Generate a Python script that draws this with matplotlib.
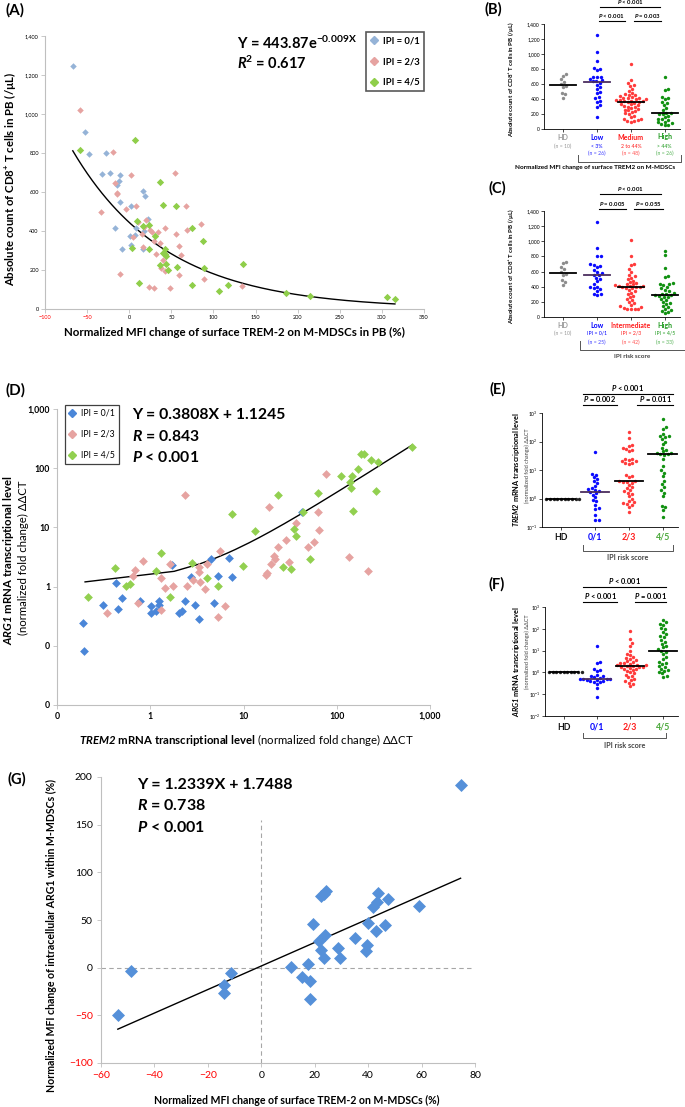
import numpy as np
import matplotlib
matplotlib.use("Agg")
import matplotlib.pyplot as plt
from matplotlib import transforms
from matplotlib.lines import Line2D
from matplotlib.ticker import NullLocator

plt.rcParams['font.family'] = ['Lato', 'DejaVu Sans']
plt.rcParams['mathtext.fontset'] = 'custom'
plt.rcParams['mathtext.rm'] = 'Lato'
plt.rcParams['mathtext.it'] = 'Lato:italic'
plt.rcParams['mathtext.bf'] = 'Lato:bold'
HAS_BFIT = 'mathtext.bfit' in plt.rcParams
if HAS_BFIT:
    plt.rcParams['mathtext.bfit'] = 'Lato:italic:bold'
BI = r'\mathbfit' if HAS_BFIT else r'\mathit'

# ---- (A) TREM-2 MFI change vs CD8+ T cell count ----
a_blue_x = [-67, -53, -48, -28, -32, -23, -11, -12, -14, -11, -16.5, -8.6, 2, 1, 1.7, 7, 8, 16.7, 18.7, 22, 16.7, 18]
a_blue_y = [1246, 907, 796, 801, 690, 695, 685, 657, 638, 551, 417, 309, 526, 372, 330, 381, 417, 603, 582, 464, 307, 398]
a_red_x = [-58, -19, -33.5, -17, -14, -15, -11, -4, 2, 8, 5, 10, 20, 17, 15.5, 16, 25, 27, 34, 29,
           32, 36, 38, 43, 40.5, 43, 54, 55, 59, 59.5, 48, 62, 23.5, 30, 68, 69, 85, 89, 134]
a_red_y = [1021, 804, 495, 644, 594, 589, 181, 514, 688, 526, 370, 446, 454, 420, 386, 318, 403, 394, 396, 347,
           282, 338, 208, 417, 253, 193, 698, 384, 321, 176, 106, 275, 113, 108, 529, 405, 437, 152, 116]
a_green_x = [-58, 7, 37, 40, 55.5, 9, 16, 23.5, 3.7, 23.5, 31, 12, 40, 42.5, 44, 43, 36, 44, 46, 57,
             74.5, 88, 88.7, 75, 106.6, 117.6, 135.5, 186, 214.6, 305.6, 315.5]
a_green_y = [814, 866, 649, 531, 528, 452, 425, 430, 314, 306, 372, 131, 289, 283, 270, 307, 224, 232, 200, 213,
             417, 350, 210, 125, 92, 125, 232, 82, 65, 60, 51]
a_fit_a, a_fit_b = 443.87, -0.009

# ---- (D) TREM2 mRNA vs ARG1 mRNA ----
d_blue_x = [0.19, 0.195, 0.31, 0.43, 0.45, 0.50, 0.77, 1.03, 1.03, 1.16, 1.24, 1.24, 1.73, 2.02, 2.21, 2.35, 2.72,
            3.05, 3.32, 4.43, 4.81, 5.35, 7.0, 7.55, 41.9]
d_blue_y = [0.24, 0.082, 0.48, 1.16, 0.42, 0.63, 0.57, 0.47, 0.36, 0.38, 0.57, 0.49, 2.3, 0.36, 0.38, 0.58, 1.45,
            0.49, 0.28, 2.9, 0.53, 1.5, 3.05, 1.43, 17.9]
d_red_x = [0.34, 0.65, 0.69, 0.73, 0.84, 1.32, 1.32, 1.43, 1.62, 1.76, 2.38, 2.48, 2.88, 3.34, 3.34, 3.40, 3.91,
           4.07, 5.35, 5.66, 6.3, 17.4, 17.7, 18.9, 19.7, 21.2, 22.0, 23.5, 28.9, 30.6, 36.5, 49.4, 56.9, 63.3,
           64.9, 76.5, 136, 218]
d_red_y = [0.36, 1.5, 1.9, 0.52, 2.75, 0.41, 1.41, 0.93, 2.39, 1.02, 35.8, 1.02, 1.30, 1.77, 2.13, 1.19, 0.90,
           2.42, 0.31, 3.95, 0.47, 1.56, 1.71, 21.7, 2.42, 3.34, 2.94, 4.61, 6.2, 2.62, 11.8, 4.61, 5.66, 17.9,
           9.0, 78.7, 3.2, 1.87]
d_green_x = [0.215, 0.416, 0.555, 0.61, 1.15, 1.32, 1.62, 2.81, 4.07, 5.35, 7.62, 9.76, 13.4, 23.5, 26.2, 32.2,
             34.7, 36.5, 43, 51.5, 63.3, 111, 138, 144, 142, 150, 170, 180, 196, 233, 263, 274, 635]
d_green_y = [0.67, 2.1, 1.02, 1.11, 1.82, 3.71, 0.67, 2.52, 1.41, 1.02, 17, 2.21, 8.6, 35.8, 2.13, 2.0, 9.3,
             7.25, 17.9, 2.94, 37.8, 73.8, 59.3, 73.8, 45.8, 18.6, 96.8, 177, 177, 137, 41.9, 125, 230]
d_fit_a, d_fit_b = 0.3808, 1.1245

# ---- (G) TREM-2 MFI change vs ARG1 MFI change ----
g_x = [-53.7, -48.8, -14.1, -14.1, -11.3, 11, 15.1, 17.3, 18.3, 18.4, 19.4, 21.7, 22.2, 23.5, 23.7, 22.5,
       23.4, 24.4, 28.8, 29.6, 34.9, 39.1, 39.4, 39.9, 42, 42.9, 43.4, 43.8, 46.2, 47.3, 58.9, 74.6]
g_y = [-50, -3.1, -18.5, -26.9, -5.2, 0.4, -10.1, 3.8, -13.6, -33.2, 45.8, 28.3, 18.5, 9.8, 34.6, 75.2,
       77.6, 80.1, 20.6, 9.8, 31.5, 17.1, 23.8, 46.9, 63.6, 38.8, 68.9, 78.3, 44.8, 72, 65, 191.3]
g_fit_a, g_fit_b = 1.2339, 1.7488

# ---- dot plots (B), (C): CD8+ counts ----
hd_cd8 = [733, 707, 662, 631, 600, 573, 556, 484, 462, 420]
b_low = [1253, 1022, 911, 809, 800, 787, 700, 698, 689, 671, 653, 644, 636, 609, 587, 556, 529, 498, 476, 431,
         409, 378, 364, 320, 298, 164]
b_med = [870, 650, 620, 590, 580, 540, 510, 480, 470, 460, 450, 440, 430, 420, 415, 410, 400, 395, 390, 385,
         380, 375, 370, 365, 360, 350, 340, 330, 320, 310, 300, 290, 280, 270, 260, 250, 240, 230, 210, 200,
         180, 160, 140, 130, 120, 110, 105, 100]
b_high = [700, 530, 520, 430, 420, 400, 360, 350, 320, 280, 250, 220, 210, 205, 200, 180, 160, 140, 130, 120,
          100, 90, 80, 70, 60, 50]
c_low = [1250, 910, 800, 800, 700, 690, 680, 660, 620, 600, 580, 560, 550, 520, 500, 470, 430, 400, 390, 380,
         370, 350, 310, 300, 290]
c_int = [1020, 800, 700, 690, 640, 600, 560, 540, 520, 500, 480, 460, 450, 440, 430, 420, 415, 410, 405, 400,
         395, 390, 385, 380, 360, 340, 320, 300, 280, 260, 240, 220, 200, 180, 160, 140, 130, 120, 110, 105,
         100, 100]
c_high = [870, 820, 650, 540, 530, 450, 440, 430, 420, 400, 380, 360, 340, 320, 310, 300, 290, 285, 280, 270,
          260, 240, 220, 200, 180, 170, 150, 130, 110, 90, 80, 60, 50]

# ---- dot plots (E), (F): mRNA levels ----
hd_mrna = [1, 1, 1, 1, 1, 1, 1, 1, 1, 1]
e_01 = [42, 7.4, 6.9, 5.6, 4.8, 4.0, 3.5, 2.8, 2.3, 2.1, 2.0, 1.8, 1.7, 1.5, 1.36, 1.1, 0.91, 0.8, 0.6, 0.46,
        0.43, 0.27, 0.18, 0.18]
e_23 = [215, 132, 75, 68, 60, 55, 50, 45, 25, 24, 22, 21, 20, 18, 17, 16, 6.5, 6.0, 5.5, 4.2, 4.0, 3.9, 3.8,
        3.6, 3.0, 2.6, 2.3, 2.0, 1.8, 1.6, 1.4, 1.2, 1.0, 0.85, 0.75, 0.7, 0.65, 0.6, 0.5, 0.33]
e_45 = [600, 330, 280, 180, 160, 150, 140, 120, 100, 80, 60, 50, 45, 40, 38, 36, 35, 33, 25, 14, 10, 8, 6, 4,
        3.2, 2.5, 2.0, 1.6, 1.2, 0.55, 0.5, 0.4, 0.22]
f_01 = [17, 3.0, 2.8, 1.5, 1.3, 1.1, 0.75, 0.7, 0.65, 0.6, 0.55, 0.52, 0.51, 0.5, 0.48, 0.46, 0.44, 0.42, 0.4,
        0.38, 0.35, 0.3, 0.2, 0.074]
f_23 = [79, 35, 22, 16, 10, 7.2, 6.0, 5.2, 4.6, 4.0, 3.6, 3.2, 3.0, 2.8, 2.6, 2.4, 2.3, 2.2, 2.1, 2.0, 1.9,
        1.85, 1.8, 1.7, 1.6, 1.5, 1.4, 1.3, 1.2, 1.0, 0.9, 0.8, 0.7, 0.6, 0.5, 0.45, 0.4, 0.33, 0.28, 0.23]
f_45 = [245, 200, 170, 150, 110, 100, 70, 55, 45, 40, 30, 25, 20, 17, 14, 12, 9.5, 9.0, 7, 5, 4, 3, 2.8, 2.4,
        2.0, 1.8, 1.5, 1.3, 1.2, 1.0, 0.9, 0.7, 0.62]

W, H = 685, 1107
fig = plt.figure(figsize=(W / 100, H / 100), dpi=100)


def add_ax(l, t, r, b):
    return fig.add_axes([l / W, 1 - b / H, (r - l) / W, (b - t) / H])


def ftext(x, y, s, **kw):
    kw.setdefault('ha', 'center')
    kw.setdefault('va', 'center')
    return fig.text(x / W, 1 - y / H, s, **kw)


def excel_axes(ax, red_x=(), red_y=()):
    for s in ['top', 'right']:
        ax.spines[s].set_visible(False)
    for s in ['left', 'bottom']:
        ax.spines[s].set_color('#bfbfbf')
        ax.spines[s].set_linewidth(0.8)
    ax.tick_params(length=3, width=0.6, color='#bfbfbf')
    for lab in ax.get_xticklabels():
        if lab.get_text() in red_x:
            lab.set_color('red')
    for lab in ax.get_yticklabels():
        if lab.get_text() in red_y:
            lab.set_color('red')


def beeswarm(yp, d):
    # simple swarm: put each dot as close to the centre as it can go
    xs = np.zeros(len(yp))
    done = []
    for i in np.argsort(yp):
        cands = [0.0]
        for j in done:
            dy = yp[i] - yp[j]
            if abs(dy) < d:
                dx = np.sqrt(d * d - dy * dy)
                cands += [xs[j] + dx, xs[j] - dx]
        cands.sort(key=abs)
        for c in cands:
            if all((c - xs[j]) ** 2 + (yp[i] - yp[j]) ** 2 >= d * d - 1e-6 for j in done):
                xs[i] = c
                break
        done.append(i)
    return xs


def dot_panel(ax, groups, colors, med_colors, px_y, log=False, hw=0.38, d=3.7, px_x=34.0):
    for i, vals in enumerate(groups):
        v = np.array(vals, float)
        yp = (np.log10(v) if log else v) * px_y
        xo = beeswarm(yp, d) / px_x
        ax.scatter(i + xo, v, s=6, color=colors[i], linewidths=0, zorder=3, clip_on=False)
        ax.plot([i - hw, i + hw], [np.median(v)] * 2, color=med_colors[i], lw=1.3, zorder=4)
    ax.set_xlim(-0.56, 3.45)
    for s in ['top', 'right']:
        ax.spines[s].set_visible(False)
    for s in ['left', 'bottom']:
        ax.spines[s].set_linewidth(0.6)
    ax.set_xticks(range(4))
    ax.set_xticklabels([])
    ax.tick_params(length=2, width=0.5, labelsize=3.6, pad=1)


def sig(ax, x1, x2, y, label, fs):
    tr = transforms.blended_transform_factory(ax.transData, fig.transFigure)
    ax.plot([x1, x2], [1 - y / H] * 2, transform=tr, color='k', lw=0.8, clip_on=False)
    ax.text((x1 + x2) / 2, 1 - (y - 1) / H, label, transform=tr, ha='center', va='bottom',
            fontsize=fs, fontweight='bold')


def cat_row(ax, y, texts, colors, fs, weight='bold', alpha=1.0):
    tr = transforms.blended_transform_factory(ax.transData, fig.transFigure)
    for i, (t, c) in enumerate(zip(texts, colors)):
        ax.text(i, 1 - y / H, t, transform=tr, ha='center', va='center', fontsize=fs,
                fontweight=weight, color=c, alpha=alpha)


def bracket(ax, x1, x2, ytop, ybot, label, ylab, fs):
    tr = transforms.blended_transform_factory(ax.transData, fig.transFigure)
    ax.plot([x1, x1, x2, x2], [1 - ytop / H, 1 - ybot / H, 1 - ybot / H, 1 - ytop / H],
            transform=tr, color='#555555', lw=0.7, clip_on=False)
    ax.text((x1 + x2) / 2, 1 - ylab / H, label, transform=tr, ha='center', va='center',
            fontsize=fs, fontweight='bold', color='#444444')


P = lambda s: f"${BI}{{P}}$ {s}"

# ===================== (A) =====================
axA = add_ax(45, 36, 424, 309)
xf = np.linspace(min(a_blue_x), max(a_green_x), 200)
axA.plot(xf, a_fit_a * np.exp(a_fit_b * xf), color='k', lw=1.0, zorder=2)
axA.scatter(a_blue_x, a_blue_y, marker='D', s=11, color='#95b3d7', linewidths=0, zorder=3)
axA.scatter(a_red_x, a_red_y, marker='D', s=11, color='#e6a3a1', linewidths=0, zorder=3)
axA.scatter(a_green_x, a_green_y, marker='D', s=14, color='#8fce4a', linewidths=0, zorder=3)
axA.set_xlim(-100, 350)
axA.set_ylim(0, 1400)
axA.set_xticks(range(-100, 351, 50))
axA.set_yticks(range(0, 1401, 200))
axA.set_yticklabels([f"{v:,}" for v in range(0, 1401, 200)])
axA.tick_params(labelsize=4, pad=1.5)
excel_axes(axA, red_x=('−100', '−50', '-100', '-50'))
hA = [Line2D([], [], marker='D', ls='none', color=c, ms=4) for c in ['#95b3d7', '#e6a3a1', '#8fce4a']]
legA = axA.legend(hA, ['IPI = 0/1', 'IPI = 2/3', 'IPI = 4/5'], loc='upper left',
                  bbox_to_anchor=(366 / W, 1 - 32 / H), bbox_transform=fig.transFigure,
                  borderaxespad=0, fancybox=False, framealpha=1, edgecolor='#595959',
                  prop={'size': 6.8, 'weight': 'bold'}, labelspacing=1.25, handlelength=0.8,
                  handletextpad=0.6, borderpad=0.45)
legA.get_frame().set_linewidth(1.2)
ftext(237, 43, r"Y = 443.87e$^{\mathbf{-0.009X}}$", fontsize=10.5, fontweight='bold', ha='left')
ftext(237, 63, f"${BI}{{R}}^{{\\mathbf{{2}}}}$ = 0.617", fontsize=10.5, fontweight='bold', ha='left')
ftext(15, 10, "(A)", fontsize=11, fontweight='bold')
ftext(10, 179, r"Absolute count of CD8$^{\mathbf{+}}$ T cells in PB (/µL)", fontsize=8.2,
      fontweight='bold', rotation=90)
ftext(234, 332, "Normalized MFI change of surface TREM-2 on M-MDSCs in PB (%)", fontsize=8.3,
      fontweight='bold')

# ===================== (B) =====================
axB = add_ax(544, 24, 680, 129)
dot_panel(axB, [hd_cd8, b_low, b_med, b_high], ['#8c8c8c', '#0a0aff', '#ff3b3b', '#119111'],
          ['k', '#4b2d5e', 'k', 'k'], px_y=105 / 1400)
axB.set_ylim(0, 1400)
axB.set_yticks(range(0, 1401, 200))
axB.set_yticklabels([f"{v:,}" for v in range(0, 1401, 200)])
sig(axB, 1.1, 2.85, 7, P("< 0.001"), 4.3)
sig(axB, 1.05, 1.82, 21, P("< 0.001"), 4.3)
sig(axB, 2.1, 2.9, 21, P("= 0.003"), 4.3)
cB = ['#999999', '#0000ff', '#ff1a1a', '#1f9a1f']
cat_row(axB, 137, ['HD', 'Low', 'Medium', 'High'], cB, 5.0)
cat_row(axB, 146, ['(n = 10)', '< 3%', '2 to 44%', '> 44%'], cB, 3.7, weight='normal')
cat_row(axB, 153, ['', '(n = 26)', '(n = 48)', '(n = 26)'], cB, 3.7, weight='normal', alpha=0.75)
bracket(axB, 0.44, 3.47, 155, 162, '', 168, 4.5)
ftext(595, 168, "Normalized MFI change of surface TREM2 on M-MDSCs", fontsize=4.6, fontweight='bold')
ftext(493, 9, "(B)", fontsize=10.5, fontweight='bold')
ftext(511, 79, r"Absolute count of CD8$^{\mathbf{+}}$ T cells in PB (/µL)", fontsize=4.4,
      fontweight='bold', rotation=90)

# ===================== (C) =====================
axC = add_ax(544, 211, 680, 317)
dot_panel(axC, [hd_cd8, c_low, c_int, c_high], ['#8c8c8c', '#0a0aff', '#ff3b3b', '#119111'],
          ['k', '#4b2d5e', 'k', 'k'], px_y=106 / 1400)
axC.set_ylim(0, 1400)
axC.set_yticks(range(0, 1401, 200))
axC.set_yticklabels([f"{v:,}" for v in range(0, 1401, 200)])
sig(axC, 1.1, 2.9, 194, P("< 0.001"), 4.3)
sig(axC, 1.05, 1.85, 209, P("= 0.005"), 4.3)
sig(axC, 2.1, 2.95, 209, P("= 0.055"), 4.3)
cat_row(axC, 325, ['HD', 'Low', 'Intermediate', 'High'], cB, 5.0)
cat_row(axC, 333, ['(n = 10)', 'IPI = 0/1', 'IPI = 2/3', 'IPI = 4/5'], cB, 3.7, weight='normal')
cat_row(axC, 342, ['', '(n = 25)', '(n = 42)', '(n = 33)'], cB, 3.7, weight='normal', alpha=0.75)
bracket(axC, 0.5, 3.6, 341, 350, 'IPI risk score', 356, 4.6)
ftext(497, 188, "(C)", fontsize=10.5, fontweight='bold')
ftext(511, 266, r"Absolute count of CD8$^{\mathbf{+}}$ T cells in PB (/µL)", fontsize=4.4,
      fontweight='bold', rotation=90)

# ===================== (D) =====================
axD = add_ax(57, 409, 430, 705)
xd = np.linspace(0.2, 640, 400)
axD.plot(xd, d_fit_a * xd + d_fit_b, color='k', lw=1.0, zorder=2)
axD.scatter(d_blue_x, d_blue_y, marker='D', s=20, color='#4a86d8', linewidths=0, zorder=3)
axD.scatter(d_red_x, d_red_y, marker='D', s=20, color='#e6a3a1', linewidths=0, zorder=3)
axD.scatter(d_green_x, d_green_y, marker='D', s=20, color='#92d050', linewidths=0, zorder=3)
axD.set_xscale('log')
axD.set_yscale('log')
axD.set_xlim(0.1, 1000)
axD.set_ylim(0.01, 1000)
axD.xaxis.set_minor_locator(NullLocator())
axD.yaxis.set_minor_locator(NullLocator())
axD.set_xticks([0.1, 1, 10, 100, 1000])
axD.set_xticklabels(['0', '1', '10', '100', '1,000'])
axD.set_yticks([0.01, 0.1, 1, 10, 100, 1000])
axD.set_yticklabels(['0', '0', '1', '10', '100', '1,000'])
axD.tick_params(labelsize=6.3, pad=2)
for lab in axD.get_xticklabels() + axD.get_yticklabels():
    lab.set_fontweight('bold')
excel_axes(axD)
hD = [Line2D([], [], marker='D', ls='none', color=c, ms=4) for c in ['#4a86d8', '#e6a3a1', '#92d050']]
legD = axD.legend(hD, ['IPI = 0/1', 'IPI = 2/3', 'IPI = 4/5'], loc='upper left',
                  bbox_to_anchor=(65 / W, 1 - 405 / H), bbox_transform=fig.transFigure,
                  borderaxespad=0, fancybox=False, framealpha=1, edgecolor='#404040',
                  prop={'size': 6.3}, labelspacing=1.35, handlelength=0.8,
                  handletextpad=0.6, borderpad=0.45)
legD.get_frame().set_linewidth(0.9)
ftext(132, 415, "Y = 0.3808X + 1.1245", fontsize=11.3, fontweight='bold', ha='left')
ftext(132, 436, f"${BI}{{R}}$ = 0.843", fontsize=11.3, fontweight='bold', ha='left')
ftext(132, 457, f"${BI}{{P}}$ < 0.001", fontsize=11.3, fontweight='bold', ha='left')
ftext(15, 390, "(D)", fontsize=11, fontweight='bold')
ftext(9, 560, f"${BI}{{ARG1}}$ mRNA transcriptional level", fontsize=8.2, fontweight='bold', rotation=90)
ftext(23, 558, "(normalized fold change) ΔΔCT", fontsize=8.2, rotation=90)
ftext(246, 740, f"${BI}{{TREM2}}$ " + r"$\mathbf{mRNA\ transcriptional\ level}$ (normalized fold change) ΔΔCT",
      fontsize=8.2)

# ===================== (E) =====================
axE = add_ax(542, 413, 678, 527)
dot_panel(axE, [hd_mrna, e_01, e_23, e_45], ['#222222', '#0a0aff', '#ff3b3b', '#119111'],
          ['k', '#4b2d5e', 'k', 'k'], px_y=114 / 4, log=True, hw=0.42)
axE.set_yscale('log')
axE.set_ylim(0.1, 1000)
axE.yaxis.set_minor_locator(NullLocator())
axE.set_yticks([0.1, 1, 10, 100, 1000])
axE.set_yticklabels(['$10^{-1}$', '$10^{0}$', '$10^{1}$', '$10^{2}$', '$10^{3}$'])
sig(axE, 0.65, 3.3, 394, P("< 0.001"), 5.4)
sig(axE, 0.65, 1.65, 405, P("= 0.002"), 5.4)
sig(axE, 2.25, 3.3, 405, P("= 0.011"), 5.4)
cE = ['#111111', '#0000ff', '#ff1a1a', '#4aa83a']
cat_row(axE, 537, ['HD', '0/1', '2/3', '4/5'], cE, 6.3)
bracket(axE, 0.65, 3.3, 545, 551, 'IPI risk score', 558, 5.2)
ftext(498, 389, "(E)", fontsize=10.5, fontweight='bold')
ftext(516, 470, f"${BI}{{TREM2}}$ mRNA transcriptional level", fontsize=5.3, fontweight='bold', rotation=90)
ftext(527, 466, "(normalized fold change) ΔΔCT", fontsize=4.0, rotation=90, color='#444444')

# ===================== (F) =====================
axF = add_ax(545, 607, 678, 716)
dot_panel(axF, [hd_mrna, f_01, f_23, f_45], ['#222222', '#0a0aff', '#ff3b3b', '#119111'],
          ['k', '#4b2d5e', 'k', 'k'], px_y=109 / 5, log=True, hw=0.42)
axF.set_yscale('log')
axF.set_ylim(0.01, 1000)
axF.yaxis.set_minor_locator(NullLocator())
axF.set_yticks([0.01, 0.1, 1, 10, 100, 1000])
axF.set_yticklabels(['$10^{-2}$', '$10^{-1}$', '$10^{0}$', '$10^{1}$', '$10^{2}$', '$10^{3}$'])
sig(axF, 0.6, 3.1, 587, P("< 0.001"), 5.4)
sig(axF, 0.6, 1.6, 602, P("< 0.001"), 5.4)
sig(axF, 2.15, 3.1, 602, P("= 0.001"), 5.4)
cat_row(axF, 727, ['HD', '0/1', '2/3', '4/5'], cE, 6.3)
bracket(axF, 0.6, 3.1, 733, 738, 'IPI risk score', 746, 5.2)
ftext(497, 584, "(F)", fontsize=10.5, fontweight='bold')
ftext(516, 662, f"${BI}{{ARG1}}$ mRNA transcriptional level", fontsize=5.3, fontweight='bold', rotation=90)
ftext(527, 652, "(normalized fold change) ΔΔCT", fontsize=4.0, rotation=90, color='#444444')

# ===================== (G) =====================
axG = add_ax(101, 777, 475, 1063)
axG.plot([0, 0], [-100, 155], color='#a6a6a6', lw=0.8, ls=(0, (4, 3)), zorder=1)
axG.plot([-60, 79], [0, 0], color='#a6a6a6', lw=0.8, ls=(0, (4, 3)), zorder=1)
xg = np.array([min(g_x), max(g_x)])
axG.plot(xg, g_fit_a * xg + g_fit_b, color='k', lw=1.0, zorder=2)
axG.scatter(g_x, g_y, marker='D', s=44, color='#5590d9', linewidths=0, zorder=3)
axG.set_xlim(-60, 80)
axG.set_ylim(-100, 200)
axG.set_xticks(range(-60, 81, 20))
axG.set_yticks(range(-100, 201, 50))
axG.tick_params(labelsize=7.5, pad=3)
excel_axes(axG, red_x=('−60', '−40', '−20'), red_y=('−100', '−50'))
ftext(137, 785, "Y = 1.2339X + 1.7488", fontsize=11.5, fontweight='bold', ha='left')
ftext(137, 806, f"${BI}{{R}}$ = 0.738", fontsize=11.5, fontweight='bold', ha='left')
ftext(137, 827, f"${BI}{{P}}$ < 0.001", fontsize=11.5, fontweight='bold', ha='left')
ftext(17, 779, "(G)", fontsize=10.5, fontweight='bold')
ftext(51, 936, "Normalized MFI change of intracellular ARG1 within M-MDSCs (%)", fontsize=7.6,
      fontweight='bold', rotation=90)
ftext(297, 1100, "Normalized MFI change of surface TREM-2 on M-MDSCs (%)", fontsize=7.6, fontweight='bold')

fig.savefig('out.png', dpi=100)
